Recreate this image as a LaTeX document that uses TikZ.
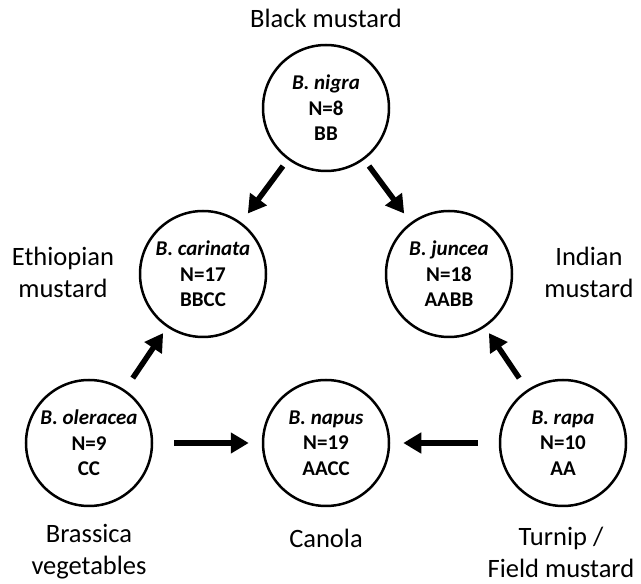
\documentclass[tikz,border=0pt]{standalone}
\usepackage{fontspec}
\setmainfont{Carlito}
\usetikzlibrary{arrows.meta}

\begin{document}
\begin{tikzpicture}[x = 1pt, y = 1pt,
	species/.style = {draw, circle, line width = 2.5pt, minimum size = 126pt, inner sep = 0pt, align = center, font = \fontsize{21}{25.5}\selectfont\bfseries},
	common/.style = {align = center, font = \fontsize{26.5}{32}\selectfont},
	cross/.style = {line width = 5.5pt, -{Triangle[length = 18pt, width = 20pt]}, shorten <= 8pt, shorten >= 11pt}]

	% Definition
	
	\def\H{141}
	
	\useasboundingbox (0, 0) rectangle (641, 584);

	% Species
	
	\node [species] (nigra) at (326, 476) {{\itshape B. nigra}\\N=8\\BB};
	\node [species] (carinata) at (203, 310) {{\itshape B. carinata}\\N=17\\BBCC};
	\node [species] (juncea) at (449, 310) {{\itshape B. juncea}\\N=18\\AABB};
	\node [species] (oleracea) at (89, \H) {{\itshape B. oleracea}\\N=9\\CC};
	\node [species] (napus) at (326, \H) {{\itshape B. napus}\\N=19\\AACC};
	\node [species] (rapa) at (563, \H) {{\itshape B. rapa}\\N=10\\AA};
	
	% Common names
	
	\node [common] (black) at (326, 566) {Black mustard};
	\node [common] (ethiopian) at (63, 312) {Ethiopian\\mustard};
	\node [common] (indian) at (589, 312) {Indian\\mustard};
	\node [common] (brassica) at (89, 32) {Brassica\\vegetables};
	\node [common] (canola) at (326, 46) {Canola};
	\node [common] (turnip) at (561, 32) {Turnip /\\Field mustard};
	
	% Crosses
	
	\draw [cross] (nigra) -- (carinata);
	\draw [cross] (nigra) -- (juncea);
	\draw [cross, shorten <= 14pt, shorten >= 7pt] (oleracea) -- (carinata);
	\draw [cross, shorten <= 14pt, shorten >= 7pt] (rapa) -- (juncea);
	\draw [cross, shorten <= 21pt, shorten >= 13pt] (oleracea) -- (napus);
	\draw [cross, shorten <= 21pt, shorten >= 13pt] (rapa) -- (napus);

\end{tikzpicture}
\end{document}
